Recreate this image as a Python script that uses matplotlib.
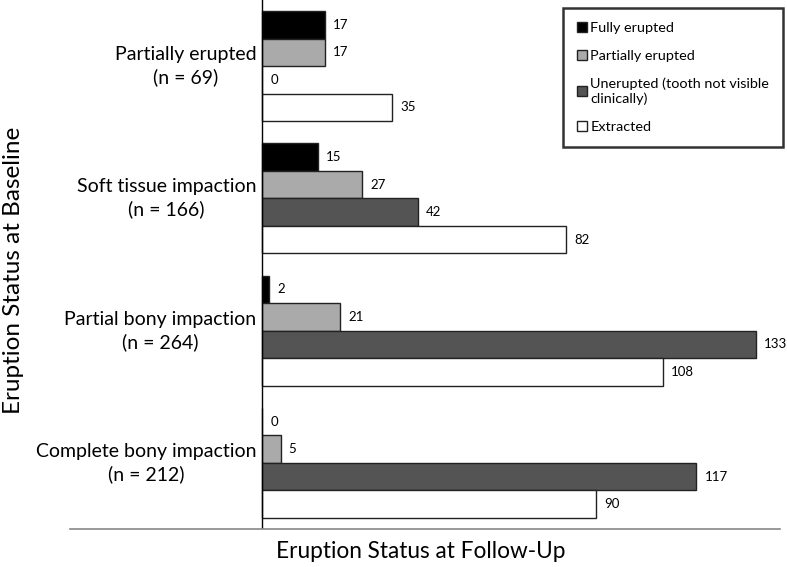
import matplotlib
matplotlib.use("Agg")
import matplotlib.pyplot as plt
from matplotlib.patches import Patch

plt.rcParams['font.family'] = ['Lato', 'DejaVu Sans']

categories = ["Partially erupted\n(n = 69)", "Soft tissue impaction\n(n = 166)",
              "Partial bony impaction\n(n = 264)", "Complete bony impaction\n(n = 212)"]
series = ["Fully erupted", "Partially erupted", "Unerupted (tooth not visible\nclinically)", "Extracted"]
fully = [17, 15, 2, 0]
partial = [17, 27, 21, 5]
unerupted = [0, 42, 133, 117]
extracted = [35, 82, 108, 90]
values = [fully, partial, unerupted, extracted]
colors = ["#000000", "#aaaaaa", "#545454", "#ffffff"]

fig = plt.figure(figsize=(7.87, 5.67), dpi=100)
ax = fig.add_axes([70/787, 1 - 529/567, 710/787, 529/567])

h = 0.208
offsets = [-1.5*h, -0.5*h, 0.5*h, 1.5*h]
for s, vals in enumerate(values):
    for i, v in enumerate(vals):
        y = i + offsets[s]
        ax.barh(y, v, height=h, color=colors[s], edgecolor="#222222", linewidth=1.0)
        ax.text(v + 2.2, y, str(v), va="center", ha="left", fontsize=9.5)

for i, c in enumerate(categories):
    ax.text(-1.5, i, c, ha="right", va="center", fontsize=14, multialignment="center",
            linespacing=1.35)

ax.set_xlim(-51.7, 139.5)
ax.set_ylim(3.5, -0.5)
ax.axvline(0, color="black", lw=1.0)
for sp in ["left", "top", "right"]:
    ax.spines[sp].set_visible(False)
ax.spines["bottom"].set_color("#888888")
ax.spines["bottom"].set_linewidth(1.2)
ax.set_xticks([])
ax.set_yticks([])

fig.text(421/787, 1 - 552/567, "Eruption Status at Follow-Up", ha="center", va="center", fontsize=16.3)
fig.text(14/787, 1 - 270/567, "Eruption Status at Baseline", ha="center", va="center",
         rotation=90, fontsize=17.5)

handles = [Patch(facecolor=colors[k], edgecolor="#222222", linewidth=1.0) for k in range(4)]
leg = ax.legend(handles, series, loc="upper right", bbox_to_anchor=(783/787, 1 - 8/567),
                bbox_transform=fig.transFigure, fontsize=10.4, frameon=True, fancybox=False,
                handlelength=0.7, handleheight=0.7, handletextpad=0.25, labelspacing=1.1,
                borderpad=0.95, borderaxespad=0)
leg.get_frame().set_edgecolor("black")
leg.get_frame().set_linewidth(1.8)

fig.savefig("out.png", dpi=100)
